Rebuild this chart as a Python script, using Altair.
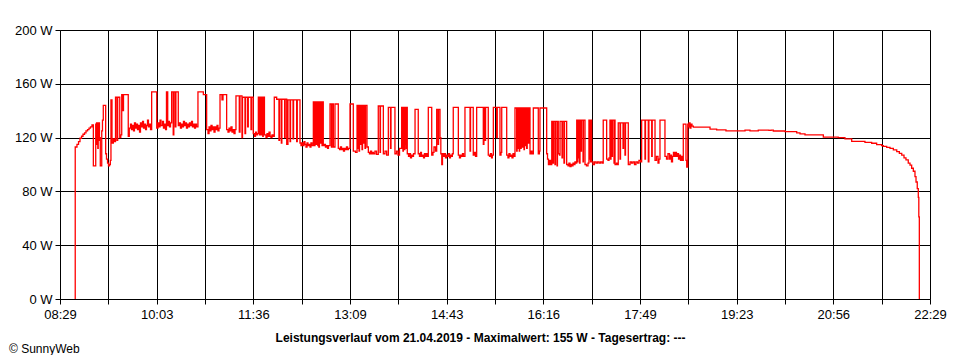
import altair as alt
import pandas as pd

# time in minutes after 08:29, power in W
t_start = [14.5, 14.7, 16.4, 17.9, 19.3, 20.8, 22.2, 23.7, 25.1, 26.6, 28.0, 29.4, 30.9, 32.2, 34.5, 34.9, 35.3, 35.7, 36.1, 36.5, 36.9, 37.3, 37.7, 38.1, 38.9, 40.3, 41.0, 41.8, 44.1, 44.9, 45.9, 46.8, 47.8, 48.6, 49.2, 50.2, 51.5, 52.4, 53.6, 55.0, 55.7, 57.7, 58.7, 59.6, 60.8, 61.3, 65.9]
w_start = [0, 113, 115, 117, 119.5, 121, 122.5, 123.5, 125, 126, 127, 128, 129.5, 99, 130, 115, 131, 119, 131, 112, 130, 118, 131, 120, 99, 125, 133, 144, 108, 104, 101, 99, 100, 103, 148, 116, 119, 117, 150, 118, 150, 120, 122, 152, 140, 152, 121]

t_morning = [66.9, 68.1, 69.0, 70.0, 71.0, 71.9, 72.9, 73.9, 74.8, 75.8, 76.8, 77.7, 78.7, 79.7, 80.6, 81.6, 82.6, 83.5, 84.5, 85.4, 86.4, 87.4, 88.5, 93.4, 94.6, 95.6, 96.6, 97.5, 99.0, 99.9, 100.9, 101.9, 102.8, 104.0, 104.8, 105.7, 106.7, 107.8, 109.3, 109.9, 111.3, 111.9, 114.2, 115.4, 116.3, 117.3, 118.3, 119.2, 120.2, 121.2, 122.1, 123.1, 124.1, 125.0, 126.0, 127.0, 127.9, 128.9, 129.9, 130.8, 131.8, 133.2, 138.4, 141.6, 142.9, 143.9, 144.8, 145.8, 146.8, 147.7, 148.7, 149.7, 150.6, 151.6, 152.5, 153.5, 154.5, 156.4, 157.4, 160.9, 162.2, 163.2, 164.1, 165.1, 166.1, 167.0, 168.0, 169.0, 169.9]
w_morning = [127, 130, 126, 129, 125, 131, 127, 130, 126, 129, 124, 131, 128, 132, 127, 130, 126, 129, 133, 128, 130, 126, 154, 127, 131, 128, 133, 129, 132, 127, 130, 126, 154, 129, 132, 128, 131, 154, 122, 154, 128, 154, 129, 131, 127, 130, 128, 132, 129, 131, 127, 130, 128, 131, 129, 132, 128, 130, 127, 130, 128, 154, 152, 126, 123, 128, 125, 129, 126, 128, 124, 128, 126, 129, 125, 127, 152, 148, 152, 126, 124, 127, 125, 128, 124, 126, 123, 126, 151]

t_noon = [173.1, 173.8, 175.7, 176.2, 178.6, 179.2, 181.2, 181.8, 184.4, 185.0, 186.6, 187.8, 188.8, 189.7, 190.7, 191.5, 192.0, 192.3, 192.7, 193.1, 193.5, 193.9, 194.3, 194.6, 195.0, 195.4, 195.8, 196.2, 196.6, 197.0, 197.4, 198.9, 199.9, 200.8, 201.8, 202.8, 203.7, 204.7, 205.7, 206.9, 209.2, 211.4, 212.0, 213.7, 214.2, 216.9, 217.4, 218.9, 220.1, 222.1, 222.6, 225.0, 225.5, 228.5, 229.1, 231.7]
w_noon = [124, 151, 120, 150, 123, 150, 128, 150, 126, 150, 123, 121, 124, 122, 123, 150, 123, 150, 122, 150, 124, 150, 122, 150, 123, 150, 121, 150, 124, 150, 122, 120, 123, 121, 124, 121, 120, 122, 121, 150, 148.5, 118, 148.5, 116, 148.5, 120, 148.5, 115, 148, 117, 148, 119, 148, 117, 148, 116]

t_early_pm = [232.7, 233.7, 234.6, 235.6, 236.5, 237.5, 238.5, 239.4, 240.4, 241.4, 242.3, 243.3, 244.6, 245.0, 245.4, 245.8, 246.2, 246.6, 247.0, 247.4, 247.7, 248.1, 248.5, 248.9, 249.3, 249.9, 250.5, 251.3, 252.0, 253.0, 253.5, 254.2, 255.4, 256.3, 257.3, 258.3, 259.2, 260.7, 262.1, 262.6, 263.9, 265.5, 268.7, 269.9, 270.8, 271.8, 272.8, 273.7, 274.7, 275.6, 276.6, 277.6, 278.5, 280.0, 283.2, 285.3, 286.8, 287.2, 287.7, 288.7, 289.2, 290.1, 290.6, 291.6, 292.1, 293.0, 293.5, 294.5, 295.0, 296.4, 297.7, 298.8, 299.8, 300.8, 301.7, 302.7, 304.1, 305.6, 307.3, 309.0, 309.4, 312.2, 313.8, 315.4, 317.0, 319.1, 319.6, 323.4, 324.9, 326.3, 327.8]
w_early_pm = [114, 116, 114, 117, 115, 113, 116, 114, 115, 113, 116, 114, 146.5, 116, 146.5, 114, 146.5, 118, 146.5, 115, 146.5, 117, 146.5, 114, 146.5, 113, 146.5, 116, 146.5, 114, 146.5, 114, 115, 113, 114, 112, 114, 145, 113, 145, 113, 145, 112, 111, 113, 111, 112, 110, 112, 111, 113, 111, 112, 145, 110, 109, 144, 112, 144, 110, 144, 115, 144, 111, 144, 116, 144, 112, 144, 113, 109, 108, 110, 108, 109, 108, 110, 107.5, 143.5, 109, 143.5, 108, 110, 107, 142.5, 112, 142.5, 108, 110, 107, 112]

t_mid_pm = [329.9, 330.3, 330.7, 331.1, 331.5, 331.8, 332.2, 332.6, 333.0, 333.4, 333.8, 334.3, 334.7, 335.3, 336.5, 337.4, 338.4, 339.4, 340.3, 341.3, 342.8, 345.9, 347.1, 348.1, 349.0, 350.0, 351.0, 351.9, 352.9, 353.9, 354.6, 355.6, 358.9, 360.1, 361.1, 362.6, 363.7, 365.0, 365.5, 366.9, 367.7, 368.6, 369.3, 370.3, 371.2, 372.2, 373.2, 374.1, 375.1, 376.1, 377.0, 378.0, 378.8, 379.7, 384.6, 385.7, 386.7, 387.6, 388.6, 389.6, 391.0, 395.9, 396.4, 399.0, 400.2, 401.2, 402.3, 408.7, 409.3, 410.3, 410.9, 413.5, 414.7, 415.6, 416.6, 417.4, 418.4, 421.6, 422.2, 424.8, 425.8, 426.5, 431.3, 432.5, 433.5, 434.5, 435.4, 436.4, 437.4, 438.3]
w_mid_pm = [142.5, 113, 142.5, 110, 142.5, 114, 142.5, 111, 142.5, 115, 142.5, 112, 142.5, 108, 106, 108, 105, 107, 106, 108, 141, 108, 106, 109, 106, 107, 105, 108, 106, 108, 106, 142.5, 107, 109, 113, 110, 141, 115, 141, 120, 108, 100, 108, 106, 108, 105, 107, 106, 108, 105, 107, 106, 108, 142.5, 107, 105, 107, 106, 108, 106, 142.5, 110, 142.5, 107, 109, 106, 142.5, 115, 142.5, 118, 142.5, 107, 106, 108, 105, 107, 142.5, 120, 142.5, 107, 109, 142.5, 107, 105, 108, 106, 107, 105, 108, 106]

t_late_pm = [439.3, 440.9, 441.4, 441.8, 442.2, 442.6, 443.0, 443.4, 443.8, 444.1, 444.5, 444.9, 445.3, 445.7, 446.1, 446.5, 446.9, 447.2, 447.6, 448.0, 448.4, 448.8, 449.2, 449.6, 449.9, 450.5, 451.1, 452.1, 452.7, 453.8, 454.8, 455.7, 457.0, 461.8, 462.9, 463.4, 469.9, 470.7, 471.6, 472.6, 473.6, 474.8, 476.0, 476.5, 477.9, 478.4, 479.9, 480.3, 481.1, 482.3, 482.8, 484.7, 485.2, 486.6, 487.1, 489.2]
w_late_pm = [142, 110, 142, 112, 142, 115, 142, 110, 142, 118, 142, 112, 142, 120, 142, 113, 142, 116, 142, 111, 142, 119, 142, 114, 142, 112, 142, 116, 142, 108, 110, 108, 142, 108, 110, 142, 108, 104, 100, 103, 100, 132, 101, 132, 100, 132, 99, 132, 108, 107, 132, 105, 132, 101, 132, 100]

t_evening = [490.5, 491.4, 492.4, 493.4, 494.3, 495.3, 496.3, 497.2, 498.2, 498.9, 499.5, 500.0, 500.4, 500.9, 501.6, 502.1, 503.0, 503.5, 505.0, 505.4, 506.9, 508.3, 509.8, 510.7, 511.2, 511.7, 512.2, 512.7, 513.3, 514.6, 516.0, 517.5, 518.9, 520.4, 521.8, 523.3, 524.5, 527.8, 529.1, 530.1, 531.0, 531.5, 532.0, 533.0, 533.4, 534.9, 535.4, 535.9, 537.3, 538.3, 539.0, 540.7, 541.2, 543.6, 544.1, 545.5, 546.0, 548.7, 550.4, 551.8, 553.2, 554.7, 556.1, 557.6, 559.0, 560.5, 561.6, 564.8, 565.3, 568.0, 568.6, 571.3, 571.8, 574.5, 575.9, 577.4, 578.3, 579.3, 584.1, 585.6, 587.0, 588.5, 589.4, 590.4, 591.4, 592.3, 593.3, 594.3, 595.2, 596.2, 597.2, 598.1, 599.1, 600.0, 601.0, 601.8, 604.4, 605.1, 606.1, 606.6, 607.3, 608.3, 609.2, 610.2]
w_evening = [99, 101, 98.5, 100, 99, 101, 100, 102, 101, 133, 102, 133, 105, 133, 101, 133, 110, 133, 102, 133, 100, 99, 101, 133, 104, 133, 102, 133, 102, 100, 102, 101, 102, 101, 102, 101, 133, 104, 103, 105, 133, 104, 133, 106, 133, 101, 133, 100, 101, 100, 131, 104, 131, 112, 131, 107, 131, 100, 102, 101, 102, 100, 102, 101, 103, 102, 133, 104, 133, 102, 133, 106, 133, 103, 106, 101, 104, 133, 106, 104, 108, 104, 107, 102, 106, 109, 106, 109, 106, 108, 104, 107, 103, 106, 103, 130, 103, 98, 130, 128, 131, 127, 130, 128.5]

t_dusk = [611.5, 627.6, 634.0, 643.0, 661.4, 666.2, 674.2, 684.5, 686.5, 688.7, 700.0, 711.3, 714.5, 719.3, 737.0, 751.4, 757.9, 764.4, 777.2, 783.7, 788.5, 793.3, 794.9, 798.2, 801.4, 804.6, 807.9, 810.4, 812.7, 814.9, 816.8, 819.0, 820.7, 822.3, 823.9, 825.5, 826.5, 827.7, 828.7, 829.2, 829.7]
w_dusk = [127.8, 126.3, 125.8, 125, 125.6, 125, 125.6, 125.3, 125.6, 124.9, 124.4, 123.5, 122.7, 122, 120.4, 120, 119, 117.2, 116.5, 115.8, 114.8, 114, 113.5, 112.8, 112, 110.8, 109.5, 108.3, 107, 105, 103.5, 101, 99.5, 97.2, 95, 91, 87, 82, 75.6, 61, 0]

x_ticks = [0, 46.67, 93.33, 140, 186.67, 233.33, 280, 326.67, 373.33, 420, 466.67, 513.33, 560, 606.67, 653.33, 700, 746.67, 793.33, 840]
x_labels = ["08:29", "", "10:03", "", "11:36", "", "13:09", "", "14:43", "", "16:16", "", "17:49", "", "19:23", "", "20:56", "", "22:29"]
y_ticks = [0, 40, 80, 120, 160, 200]

title_text = "Leistungsverlauf vom 21.04.2019 - Maximalwert: 155 W - Tagesertrag: ---"
copyright_text = "\u00a9 SunnyWeb"

minutes = t_start + t_morning + t_noon + t_early_pm + t_mid_pm + t_late_pm + t_evening + t_dusk
watts = w_start + w_morning + w_noon + w_early_pm + w_mid_pm + w_late_pm + w_evening + w_dusk
df = pd.DataFrame({"t": minutes, "w": watts})

FONT = "'Liberation Sans Narrow', 'Arial Narrow', 'Liberation Sans', Arial, sans-serif"
FONT_B = "'Liberation Sans', Arial, sans-serif"

vals_js = "[" + ",".join(repr(float(v)) for v in x_ticks) + "]"
labs_js = "[" + ",".join("'" + s + "'" for s in x_labels) + "]"
x_label_expr = labs_js + "[indexof(" + vals_js + ", datum.value)]"

line = alt.Chart(df).mark_line(color="#ff0000", strokeWidth=1.3, interpolate="step-after", clip=True).encode(
    x=alt.X("t:Q",
            scale=alt.Scale(domain=[0, 840], nice=False, zero=False),
            axis=alt.Axis(values=x_ticks, labelExpr=x_label_expr, grid=True,
                          title=title_text, titleFont=FONT_B, titleFontSize=12, titleFontWeight="bold",
                          titleX=420, titleY=38, titleAlign="center", titleBaseline="middle",
                          titleColor="black",
                          labelFont=FONT, labelFontSize=13, labelColor="black", labelPadding=4,
                          tickSize=5, labelOverlap=False, labelFlush=False)),
    y=alt.Y("w:Q",
            scale=alt.Scale(domain=[0, 200], nice=False),
            axis=alt.Axis(values=y_ticks, labelExpr="datum.value + ' W'", grid=True, title=None,
                          labelFont=FONT, labelFontSize=13, labelColor="black", labelPadding=3,
                          tickSize=5)),
)

credit = alt.Chart(pd.DataFrame({"txt": [copyright_text]})).mark_text(
    align="left", baseline="middle", font=FONT, fontSize=12, color="black"
).encode(text="txt:N", x=alt.value(-51), y=alt.value(319))

chart = alt.layer(line, credit).properties(
    width=870, height=269,
    autosize=alt.AutoSizeParams(type="none"),
    padding={"left": 52, "top": 22, "right": 18, "bottom": 56},
    background="white",
).configure_view(stroke=None).configure_axis(
    domainColor="black", gridColor="black", gridOpacity=1, gridWidth=1, tickColor="black", tickWidth=1,
    domainWidth=1,
)

chart.save("out.html", embed_options={"renderer": "svg", "actions": False})
